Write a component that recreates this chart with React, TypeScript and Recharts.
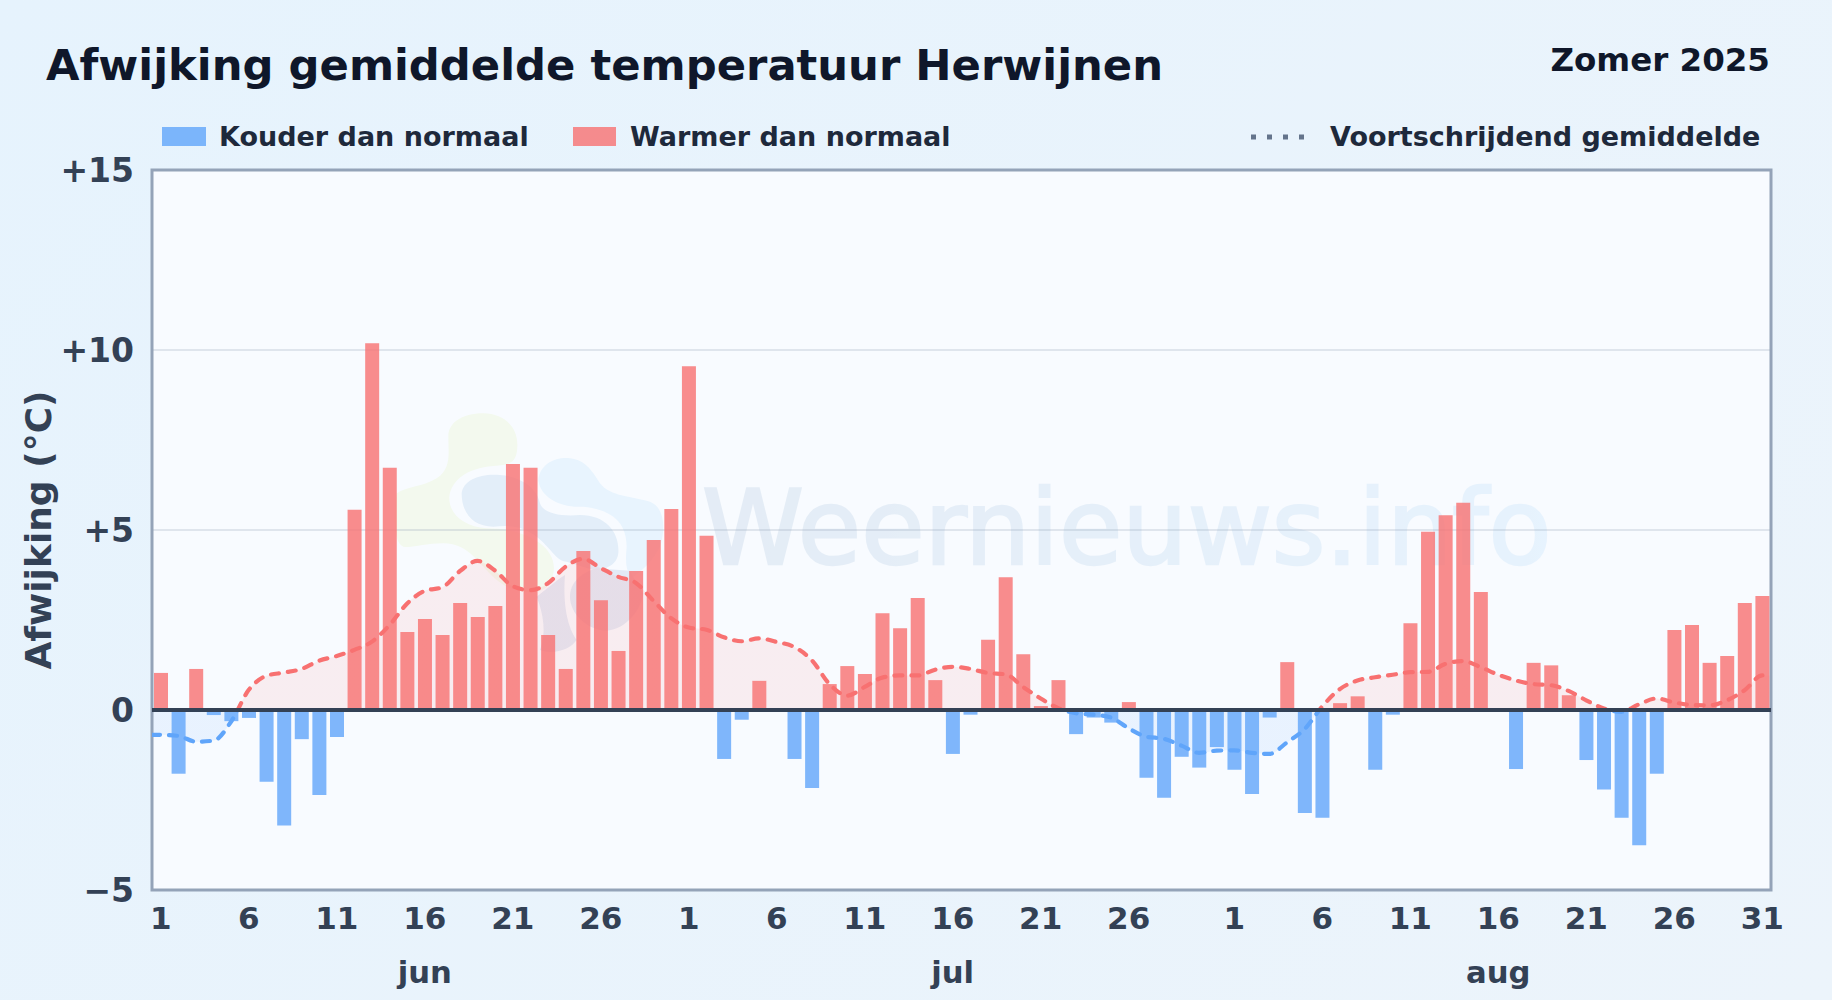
import React from 'react';
import { ComposedChart, Bar, Line, Area, XAxis, YAxis, CartesianGrid, ReferenceLine, ReferenceArea } from 'recharts';

const juneAnomaly = [1.03, -1.77, 1.14, -0.14, -0.31, -0.22, -1.99, -3.21, -0.81, -2.36, -0.75, 5.56, 10.19, 6.73, 2.17, 2.53, 2.08, 2.97, 2.58, 2.89, 6.83, 6.73, 2.08, 1.14, 4.42, 3.05, 1.64, 3.86, 4.72, 5.58];
const julyAnomaly = [9.55, 4.84, -1.36, -0.27, 0.81, 0, -1.36, -2.17, 0.72, 1.22, 1.0, 2.69, 2.27, 3.11, 0.83, -1.22, -0.13, 1.95, 3.69, 1.55, 0.11, 0.83, -0.67, -0.21, -0.35, 0.22, -1.88, -2.44, -1.3, -1.6, -1.03];
const augustAnomaly = [-1.66, -2.33, -0.21, 1.33, -2.86, -2.99, 0.19, 0.38, -1.66, -0.13, 2.41, 4.95, 5.41, 5.76, 3.28, 0, -1.64, 1.31, 1.24, 0.41, -1.39, -2.21, -2.99, -3.76, -1.77, 2.22, 2.36, 1.31, 1.5, 2.97, 3.17];

const juneAverage = [-0.69, -0.72, -0.88, -0.85, -0.32, 0.56, 0.95, 1.04, 1.14, 1.37, 1.5, 1.67, 1.9, 2.36, 2.96, 3.31, 3.41, 3.86, 4.14, 3.87, 3.44, 3.33, 3.52, 3.98, 4.2, 3.94, 3.7, 3.53, 3.03, 2.55];
const julyAverage = [2.29, 2.23, 2.02, 1.91, 1.99, 1.89, 1.75, 1.38, 0.72, 0.4, 0.64, 0.9, 0.96, 0.96, 1.12, 1.2, 1.14, 1.03, 0.99, 0.64, 0.32, 0.05, -0.09, -0.13, -0.21, -0.51, -0.74, -0.8, -0.99, -1.19, -1.13];
const augustAverage = [-1.12, -1.19, -1.22, -0.9, -0.53, 0.1, 0.58, 0.82, 0.91, 0.98, 1.05, 1.06, 1.28, 1.36, 1.19, 0.98, 0.82, 0.72, 0.69, 0.53, 0.27, 0.04, -0.05, 0.16, 0.32, 0.21, 0.14, 0.13, 0.27, 0.55, 0.96];

const dayTicks = [1, 6, 11, 16, 21, 26, 31, 36, 41, 46, 51, 56, 62, 67, 72, 77, 82, 87, 92];
const dayLabels = ['1', '6', '11', '16', '21', '26', '1', '6', '11', '16', '21', '26', '1', '6', '11', '16', '21', '26', '31'];
const monthTicks = [16, 46, 77];
const monthLabels = ['jun', 'jul', 'aug'];
const yTicks = [-5, 0, 5, 10, 15];

const anomalies = [...juneAnomaly, ...julyAnomaly, ...augustAnomaly];
const averages = [...juneAverage, ...julyAverage, ...augustAverage];

const barRows: any[] = anomalies.map((v, i) => ({
  x: i + 1,
  cold: v < 0 ? v : null,
  warm: v > 0 ? v : null,
}));
const avgRows: any[] = [
  { x: 0.5, avg: averages[0] },
  ...averages.map((a, i) => ({ x: i + 1, avg: a })),
  { x: 92.5, avg: averages[averages.length - 1] },
];

const avgMax = Math.max(...averages);
const avgMin = Math.min(...averages);
const zeroOffset = `${(avgMax / (avgMax - avgMin)) * 100}%`;

const FONT = '"DejaVu Sans", sans-serif';
const fmtY = (v: number) => (v > 0 ? `+${v}` : v < 0 ? `\u2212${-v}` : '0');
const fmtDay = (v: number) => dayLabels[dayTicks.indexOf(v)] ?? '';
const fmtMonth = (v: number) => monthLabels[monthTicks.indexOf(v)] ?? '';

function Backdrop() {
  return (
    <svg width={1832} height={1000} style={{ position: 'absolute', left: 0, top: 0 }}>
      <defs>
        <linearGradient id="wm" x1="0" y1="0" x2="1" y2="0">
          <stop offset="0" stopColor="#1e5a9a" />
          <stop offset="1" stopColor="#3ba3f5" />
        </linearGradient>
      </defs>
      <rect x={152} y={170} width={1619} height={720} fill="#f8fbff" />
      <g transform="translate(380 380) scale(0.3333)">
        <path fill="#f3f9ee" d="M205 170 C205 120 260 100 310 100 C370 100 415 140 412 200 C410 240 400 255 340 258 C260 265 215 300 208 350 C205 400 250 440 320 445 C380 445 440 460 480 490 C520 520 540 570 500 620 C470 650 400 640 350 600 C300 560 270 490 190 490 C130 490 100 505 70 500 C40 490 40 400 50 340 C80 320 130 320 170 295 C215 265 205 220 205 170 Z" />
        <path fill="#e8f4fe" d="M475 300 C480 250 530 230 570 235 C620 240 640 280 660 310 C690 350 760 350 810 365 C850 380 860 440 840 500 C820 540 790 570 760 590 C740 580 735 560 740 500 C740 430 700 390 610 380 C540 385 480 350 475 300 Z" />
        <path fill="#e3eef9" d="M245 340 C250 300 300 280 360 285 C420 290 470 320 480 370 C490 400 540 410 600 405 C680 405 720 460 715 520 C710 560 670 570 640 570 L560 545 C530 545 510 500 470 470 C430 440 400 435 340 440 C280 440 245 400 245 340 Z" />
        <path fill="#e3eaf6" d="M570 650 C570 610 600 580 650 565 L748 572 L790 640 C780 700 730 750 680 752 C620 750 570 700 570 650 Z" />
        <path fill="#e3eaf6" d="M470 650 C510 620 530 600 555 585 C550 650 555 730 590 780 C570 810 520 825 480 810 C500 760 490 700 470 650 Z" />
      </g>
      <g opacity={0.085}>
        <text x={702} y={564} fontFamily={FONT} fontSize={103} fill="url(#wm)" stroke="url(#wm)" strokeWidth={2.5}>Weernieuws.info</text>
      </g>

      <text x={46} y={80} fontFamily={FONT} fontWeight={700} fontSize={43.3} fill="#0f172a">Afwijking gemiddelde temperatuur Herwijnen</text>
      <text x={1770} y={71} textAnchor="end" fontFamily={FONT} fontWeight={700} fontSize={32.5} fill="#0f172a">Zomer 2025</text>

      <rect x={162} y={127} width={44} height={19} fill="#60a5fa" fillOpacity={0.8} />
      <text x={219} y={146} fontFamily={FONT} fontWeight={700} fontSize={27} fill="#1e293b">Kouder dan normaal</text>
      <rect x={573} y={127} width={43} height={19} fill="#f87171" fillOpacity={0.8} />
      <text x={630} y={146} fontFamily={FONT} fontWeight={700} fontSize={27} fill="#1e293b">Warmer dan normaal</text>
      <line x1={1251} y1={137} x2={1308} y2={137} stroke="#64748b" strokeWidth={5} strokeDasharray="5 11" />
      <text x={1330} y={146} fontFamily={FONT} fontWeight={700} fontSize={27} fill="#1e293b">Voortschrijdend gemiddelde</text>

      <text transform="translate(51 530) rotate(-90)" textAnchor="middle" fontFamily={FONT} fontWeight={700} fontSize={36} fill="#334155">Afwijking (°C)</text>
    </svg>
  );
}

export default function App() {
  return (
    <div style={{ position: 'fixed', left: 0, top: 0, width: 1832, height: 1000, overflow: 'hidden', background: 'linear-gradient(135deg,#e6f3fd,#ecf4fb)' }}>
      <Backdrop />
      <div style={{ position: 'absolute', left: 0, top: 0 }}>
        <ComposedChart width={1832} height={1000} data={barRows} margin={{ top: 170, right: 61, bottom: 0, left: 52 }} barGap={0}>
          <defs>
            <linearGradient id="avgStroke" x1="0" y1="0" x2="0" y2="1">
              <stop offset={zeroOffset} stopColor="#f87171" />
              <stop offset={zeroOffset} stopColor="#60a5fa" />
            </linearGradient>
            <linearGradient id="avgFill" x1="0" y1="0" x2="0" y2="1">
              <stop offset={zeroOffset} stopColor="#f87171" stopOpacity={0.17} />
              <stop offset={zeroOffset} stopColor="#60a5fa" stopOpacity={0.17} />
            </linearGradient>
          </defs>
          <CartesianGrid vertical={false} stroke="#94a3b8" strokeOpacity={0.25} strokeWidth={2} />
          <XAxis dataKey="x" type="number" domain={[0.5, 92.5]} ticks={dayTicks} interval={0} tickFormatter={fmtDay} axisLine={false} tickLine={false} tickMargin={11} height={50}
            tick={{ fontFamily: FONT, fontWeight: 700, fontSize: 31, fill: '#334155' }} allowDataOverflow />
          <XAxis xAxisId="month" dataKey="x" type="number" domain={[0.5, 92.5]} ticks={monthTicks} interval={0} tickFormatter={fmtMonth} axisLine={false} tickLine={false} tickMargin={15} height={60}
            tick={{ fontFamily: FONT, fontWeight: 700, fontSize: 30.7, fill: '#334155' }} allowDataOverflow />
          <YAxis type="number" domain={[-5, 15]} ticks={yTicks} interval={0} tickFormatter={fmtY} axisLine={false} tickLine={false} tickMargin={12} width={100}
            tick={{ fontFamily: FONT, fontWeight: 700, fontSize: 33, fill: '#334155' }} />
          <Area xAxisId="month" data={avgRows} dataKey="avg" type="monotone" baseValue={0} stroke="none" fill="url(#avgFill)" isAnimationActive={false} dot={false} activeDot={false} />
          <Bar dataKey="cold" stackId="dev" barSize={14} fill="#60a5fa" fillOpacity={0.8} isAnimationActive={false} />
          <Bar dataKey="warm" stackId="dev" barSize={14} fill="#f87171" fillOpacity={0.8} isAnimationActive={false} />
          <Line xAxisId="month" data={avgRows} dataKey="avg" type="monotone" stroke="url(#avgStroke)" strokeWidth={4.2} strokeDasharray="8 9" strokeLinecap="round" dot={false} activeDot={false} isAnimationActive={false} />
          <ReferenceLine y={0} stroke="#334155" strokeWidth={4} />
          <ReferenceArea x1={0.5} x2={92.5} y1={-5} y2={15} fill="none" stroke="#94a3b8" strokeWidth={3} ifOverflow="visible" />
        </ComposedChart>
      </div>
    </div>
  );
}
